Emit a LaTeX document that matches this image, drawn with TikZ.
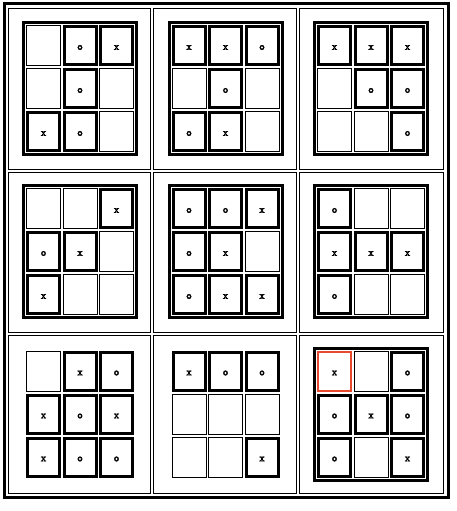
\documentclass[tikz,border=0pt]{standalone}
\usepackage{fontspec}
\newfontfamily\glyphfont{Latin Modern Mono}[FakeBold=2]
\definecolor{redx}{RGB}{230,72,48}
\tikzset{
  every node/.style={inner sep=0pt, outer sep=0pt},
  tableframe/.style={draw=black, line width=3pt, minimum width=444.5pt, minimum height=493.5pt},
  tcell/.style={draw=black, line width=1pt},
  boardframe/.style={draw=black, line width=3pt, minimum width=113pt, minimum height=132pt},
  thincell/.style={draw=black, line width=1pt, minimum width=34pt, minimum height=40pt},
  thickcell/.style={draw=black, line width=3pt, minimum width=32pt, minimum height=38pt},
  redcell/.style={draw=redx, line width=2pt, minimum width=33pt, minimum height=39pt},
  glyph/.style={font=\glyphfont\fontsize{11}{11}\selectfont, text=black}
}
\def\tttE{e}\def\tttR{r}
\newcommand\tttboard[5]{%
  \begin{scope}[shift={(#2,#3)}]
    \ifnum#4=1 \node[boardframe] (#1) at (0,0) {};\fi
    \foreach \v [count=\k from 0] in {#5} {
      \pgfmathsetmacro\px{(mod(\k,3)-1)*36.5}
      \pgfmathsetmacro\py{(int(\k/3)-1)*43}
      \ifx\v\tttE
        \node[thincell] (#1-\k) at (\px,\py) {};
      \else\ifx\v\tttR
        \node[redcell] (#1-\k) at (\px,\py) {};
        \node[glyph] (#1-t\k) at (\px,\py+2) {x};
      \else
        \node[thickcell] (#1-\k) at (\px,\py) {};
        \node[glyph] (#1-t\k) at (\px,\py+2) {\v};
      \fi\fi
    }
  \end{scope}%
}
\begin{document}
\begin{tikzpicture}[x=1pt, y=-1pt]
\useasboundingbox (0,0) rectangle (457,511);
\node[tableframe] (table) at (226.25,250.75) {};
% cells of the outer table
\node[tcell, minimum width=142pt, minimum height=161pt] (c11) at (79.5,89) {};
\node[tcell, minimum width=143pt, minimum height=161pt] (c12) at (225,89) {};
\node[tcell, minimum width=144pt, minimum height=161pt] (c13) at (371.5,89) {};
\node[tcell, minimum width=142pt, minimum height=160pt] (c21) at (79.5,252.5) {};
\node[tcell, minimum width=143pt, minimum height=160pt] (c22) at (225,252.5) {};
\node[tcell, minimum width=144pt, minimum height=160pt] (c23) at (371.5,252.5) {};
\node[tcell, minimum width=142pt, minimum height=158pt] (c31) at (79.5,414.5) {};
\node[tcell, minimum width=143pt, minimum height=158pt] (c32) at (225,414.5) {};
\node[tcell, minimum width=144pt, minimum height=158pt] (c33) at (371.5,414.5) {};
% boards
\tttboard{b1}{80}{88.5}{1}{e,o,x,e,o,e,x,o,e}
\tttboard{b2}{225.5}{88.5}{1}{x,x,o,e,o,e,o,x,e}
\tttboard{b3}{371}{88.5}{1}{x,x,x,e,o,o,e,e,o}
\tttboard{b4}{80}{251.5}{1}{e,e,x,o,x,e,x,e,e}
\tttboard{b5}{225.5}{251.5}{1}{o,o,x,o,x,e,o,x,x}
\tttboard{b6}{371}{251.5}{1}{o,e,e,x,x,x,o,e,e}
\tttboard{b7}{80}{414}{0}{e,x,o,x,o,x,x,o,o}
\tttboard{b8}{225.5}{414}{0}{x,o,o,e,e,e,e,e,x}
\tttboard{b9}{371}{414}{1}{r,e,o,o,x,o,o,e,x}
\end{tikzpicture}
\end{document}
